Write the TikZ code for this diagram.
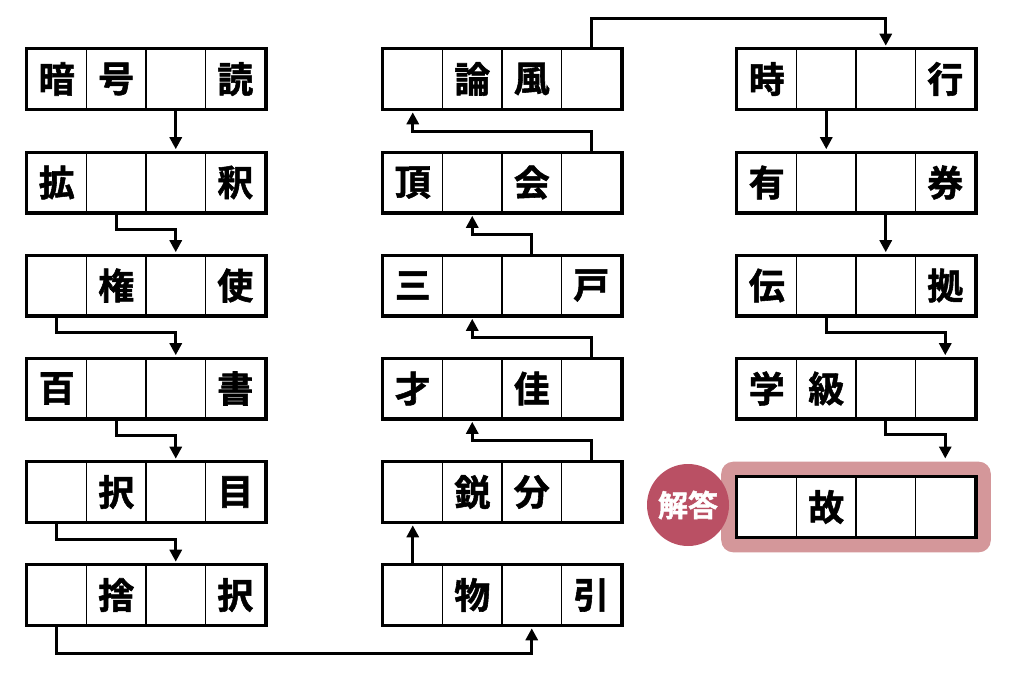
\documentclass[tikz,border=0pt]{standalone}
\usepackage{fontspec}
\usepackage{tikz}
\usetikzlibrary{positioning,arrows.meta,fit,backgrounds}

\newfontfamily\jp{Noto Sans CJK JP Bold}[FakeBold=1.5]
\definecolor{badgered}{HTML}{BA5064}
\definecolor{hilitepink}{HTML}{D4979A}

\begin{document}
\begin{tikzpicture}[x=1pt,y=-1pt,node distance=59.5pt,on grid,
    cell/.style={draw, fill=white, line width=1.6pt, minimum width=59.5pt,
        minimum height=59pt, inner sep=0pt, font=\jp\fontsize{36}{36}\selectfont},
    frame/.style={draw, line width=3.4pt},
    link/.style={line width=3pt, -{Triangle[length=12pt,width=12pt]}, shorten >=3pt},
    hilite/.style={fill=hilitepink, rounded corners=12pt, inner sep=15pt},
    badge/.style={circle, fill=badgered, text=white, minimum size=82pt, inner sep=0pt,
        font=\jp\fontsize{30}{30}\selectfont}]
    \useasboundingbox (0,0) rectangle (1024,674);
    % word rows: name/x/y/cells
    \foreach \r/\x/\y/\p/\q/\s/\t in {
        a/56.75/79/暗/号/{}/読, b/56.75/182.5/拡/{}/{}/釈, c/56.75/285.5/{}/権/{}/使,
        d/56.75/388.5/百/{}/{}/書, e/56.75/492/{}/択/{}/目, f/56.75/595/{}/捨/{}/択,
        g/412.75/595/{}/物/{}/引, h/412.75/492/{}/鋭/分/{}, i/412.75/388.5/才/{}/佳/{},
        j/412.75/285.5/三/{}/{}/戸, k/412.75/182.5/頂/{}/会/{}, l/412.75/79/{}/論/風/{},
        m/766.75/79/時/{}/{}/行, n/766.75/182.5/有/{}/{}/券, o/766.75/285.5/伝/{}/{}/拠,
        p/766.75/388.5/学/級/{}/{}, q/766.75/507/{}/故/{}/{}} {
        \node[cell] (\r_1) at (\x,\y) {\p};
        \node[cell, right=of \r_1] (\r_2) {\q};
        \node[cell, right=of \r_2] (\r_3) {\s};
        \node[cell, right=of \r_3] (\r_4) {\t};
        \draw[frame] (\r_1.north west) rectangle (\r_4.south east);
    }
    % answer
    \begin{scope}[on background layer]
        \node[hilite, fit=(q_1)(q_4)] (ans) {};
    \end{scope}
    \node[badge] (lbl) at (688,505) {解答};
    % first column
    \draw[link] (a_3.south) -- (b_3.north);
    \draw[link] (b_2.south) -- ++(0,17) -| (c_3.north);
    \draw[link] (c_1.south) -- ++(0,17) -| (d_3.north);
    \draw[link] (d_2.south) -- ++(0,17) -| (e_3.north);
    \draw[link] (e_1.south) -- ++(0,17) -| (f_3.north);
    \draw[link] (f_1.south) -- ++(0,28) -| (g_3.south);
    % second column
    \draw[link] (g_1.north) -- (h_1.south);
    \draw[link] (h_4.north) -- ++(0,-21) -| (i_2.south);
    \draw[link] (i_4.north) -- ++(0,-21) -| (j_2.south);
    \draw[link] (j_3.north) -- ++(0,-21) -| (k_2.south);
    \draw[link] (k_4.north) -- ++(0,-21) -| (l_1.south);
    \draw[link] (l_4.north) -- ++(0,-30) -| (m_3.north);
    % third column
    \draw[link] (m_2.south) -- (n_2.north);
    \draw[link] (n_3.south) -- (o_3.north);
    \draw[link] (o_2.south) -- ++(0,17) -| (p_4.north);
    \draw[link] (p_3.south) -- ++(0,16) -| (ans.north -| q_4);
\end{tikzpicture}
\end{document}
